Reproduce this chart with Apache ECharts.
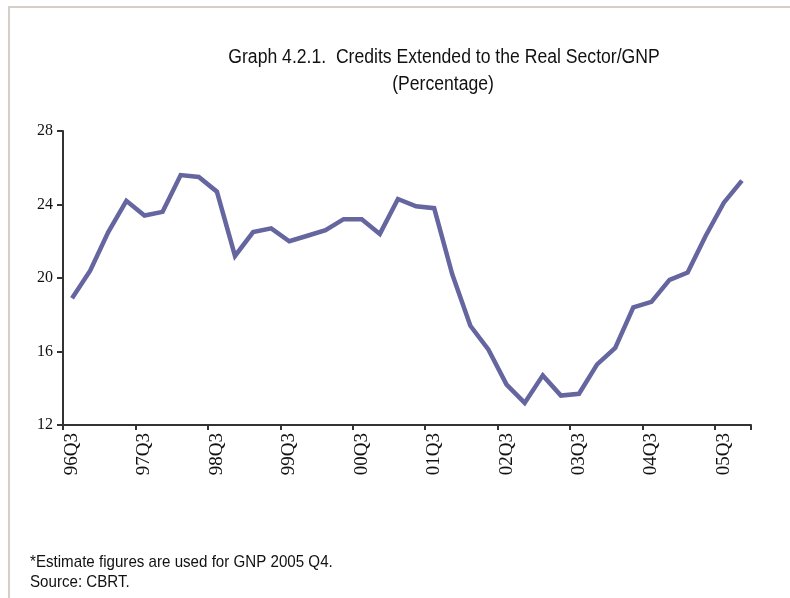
<!DOCTYPE html>
<html>
<head>
<meta charset="utf-8">
<script src="https://cdn.jsdelivr.net/npm/echarts@6/dist/echarts.min.js"></script>
<style>
  html, body { margin: 0; padding: 0; background: #fff; }
  #chart { width: 790px; height: 598px; }
</style>
</head>
<body>
<div id="chart"></div>
<script>
// Quarterly periods, 1996 Q3 to 2005 Q4
const quarters = [
  '96Q3','96Q4',
  '97Q1','97Q2','97Q3','97Q4',
  '98Q1','98Q2','98Q3','98Q4',
  '99Q1','99Q2','99Q3','99Q4',
  '00Q1','00Q2','00Q3','00Q4',
  '01Q1','01Q2','01Q3','01Q4',
  '02Q1','02Q2','02Q3','02Q4',
  '03Q1','03Q2','03Q3','03Q4',
  '04Q1','04Q2','04Q3','04Q4',
  '05Q1','05Q2','05Q3','05Q4'
];

// Credits extended to the real sector as a share of GNP (%)
const creditToGnp = [
  18.9, 20.4,
  22.5, 24.2, 23.4, 23.6,
  25.6, 25.5, 24.7, 21.2,
  22.5, 22.7, 22.0, 22.3,
  22.6, 23.2, 23.2, 22.4,
  24.3, 23.9, 23.8, 20.2,
  17.4, 16.1, 14.2, 13.2,
  14.7, 13.6, 13.7, 15.3,
  16.2, 18.4, 18.7, 19.9,
  20.3, 22.3, 24.1, 25.3
];

const yTicks = { min: 12, max: 28, step: 4 };

const titleLines = ['Graph 4.2.1.  Credits Extended to the Real Sector/GNP', '(Percentage)'];
const footnoteLines = ['*Estimate figures are used for GNP 2005 Q4.', 'Source: CBRT.'];

const sans = '"Liberation Sans", Arial, sans-serif';
const serif = '"Liberation Serif", "Times New Roman", serif';

// narrow sans text: regular sans squeezed horizontally
function narrowText(str, x, y, size, align, squeeze) {
  return {
    type: 'text', x: x, y: y, scaleX: squeeze,
    style: {
      text: str, font: size + 'px ' + sans, fill: '#111',
      textAlign: align, textVerticalAlign: 'middle'
    }
  };
}

const chart = echarts.init(document.getElementById('chart'), null, { renderer: 'canvas' });

chart.setOption({
  animation: false,
  backgroundColor: '#ffffff',
  grid: { left: 63, right: 39, top: 131, bottom: 173, containLabel: false },
  xAxis: {
    type: 'category',
    data: quarters,
    boundaryGap: true,
    axisLine: { lineStyle: { color: '#333', width: 2 } },
    axisTick: { show: true, interval: 3, length: 5, lineStyle: { color: '#333', width: 2 } },
    axisLabel: {
      interval: 3,
      rotate: 90,
      margin: 8,
      fontFamily: serif,
      fontSize: 19,
      color: '#111'
    },
    splitLine: { show: false }
  },
  yAxis: {
    type: 'value',
    min: yTicks.min,
    max: yTicks.max,
    interval: yTicks.step,
    axisLine: { show: true, lineStyle: { color: '#333', width: 2 } },
    axisTick: { show: true, length: 6, lineStyle: { color: '#333', width: 2 } },
    axisLabel: { fontFamily: serif, fontSize: 16, color: '#111', margin: 10 },
    splitLine: { show: false }
  },
  series: [{
    type: 'line',
    data: creditToGnp,
    symbol: 'none',
    lineStyle: { color: '#65659f', width: 4.5, join: 'miter' },
    itemStyle: { color: '#65659f' }
  }],
  graphic: [
    // light frame along the top and left edges
    { type: 'line', shape: { x1: 8, y1: 7, x2: 790, y2: 7 }, style: { stroke: '#d4d0c8', lineWidth: 2 } },
    { type: 'line', shape: { x1: 9, y1: 6, x2: 9, y2: 598 }, style: { stroke: '#d4d0c8', lineWidth: 2 } },
    narrowText(titleLines[0], 444, 57, 20, 'center', 0.88),
    narrowText(titleLines[1], 443, 84, 20, 'center', 0.88),
    narrowText(footnoteLines[0], 30, 562, 17, 'left', 0.89),
    narrowText(footnoteLines[1], 30, 582, 17, 'left', 0.89)
  ]
});
</script>
</body>
</html>
